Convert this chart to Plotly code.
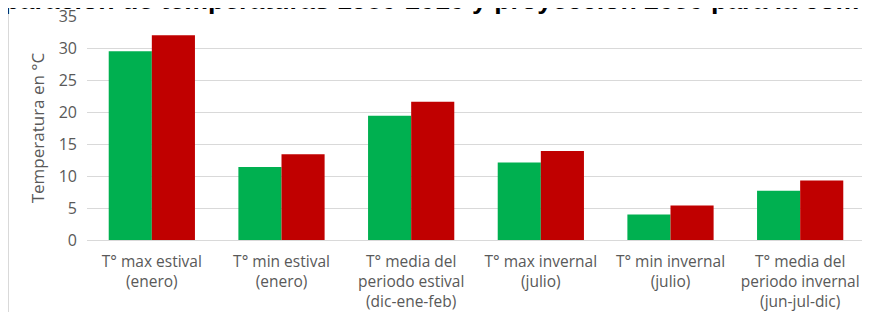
import plotly.graph_objects as go

categories = [
    "T° max estival<br>(enero)",
    "T° min estival<br>(enero)",
    "T° media del<br>periodo estival<br>(dic-ene-feb)",
    "T° max invernal<br>(julio)",
    "T° min invernal<br>(julio)",
    "T° media del<br>periodo invernal<br>(jun-jul-dic)",
]
serie_1980_2010 = [29.5, 11.4, 19.4, 12.1, 4.0, 7.7]
serie_2050 = [32.0, 13.4, 21.6, 13.9, 5.4, 9.3]
y_ticks = [0, 5, 10, 15, 20, 25, 30, 35]
title_text = "Comparación de temperaturas 1980-2010 y proyección 2050 para la comuna"

# page has an 8px body margin: figure sits at (8, 8) in the window
W, H = 862, 304
L, R, T, B = 79, 5, 8, 72
PW, PH = W - L - R, H - T - B

fig = go.Figure()
fig.add_trace(go.Bar(x=categories, y=serie_1980_2010, name="1980-2010",
                     marker=dict(color="#00B050", line=dict(width=0))))
fig.add_trace(go.Bar(x=categories, y=serie_2050, name="2050",
                     marker=dict(color="#C00000", line=dict(width=0))))

fig.update_layout(
    width=W, height=H,
    margin=dict(l=L, r=R, t=T, b=B, pad=0, autoexpand=False),
    paper_bgcolor="white", plot_bgcolor="white",
    barmode="group", bargap=0.335, bargroupgap=0,
    showlegend=False,
    font=dict(family="Open Sans", size=15, color="#595959"),
)
fig.update_yaxes(range=[0, 35], tickvals=y_ticks, showgrid=True,
                 gridcolor="#D9D9D9", gridwidth=1, zeroline=True,
                 zerolinecolor="#D9D9D9", zerolinewidth=1,
                 ticks="", ticklabelstandoff=9, automargin=False,
                 ticklabeloverflow="allow",
                 tickfont=dict(size=16, color="#595959"),
                 title=dict(text="Temperatura en °C", standoff=9,
                            font=dict(size=17, color="#595959")))
fig.update_xaxes(showgrid=False, ticks="", showline=False, automargin=False,
                 ticklabelstandoff=10, ticklabeloverflow="allow",
                 tickfont=dict(size=15.5, color="#595959"), tickangle=0)

# chart border on the left
fig.add_shape(type="line", xref="paper", yref="paper",
              x0=(0.5 - L) / PW, x1=(0.5 - L) / PW,
              y0=-B / PH, y1=1 + T / PH,
              line=dict(color="#D9D9D9", width=1))

fig.add_annotation(
    text="<b>" + title_text + "</b>",
    xref="paper", yref="paper", x=(418 - L) / PW, xanchor="center",
    y=1 + (T - 9.5) / PH, yanchor="bottom", showarrow=False,
    font=dict(family="Liberation Sans", size=26.7, color="#000000"),
)

fig.write_html("out.html")
